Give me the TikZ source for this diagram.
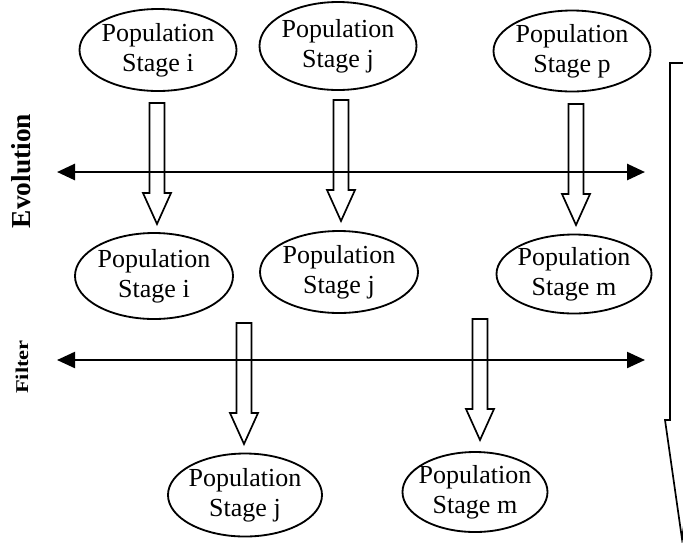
\documentclass[tikz,border=0pt]{standalone}
\usepackage{fontspec}
\setmainfont{Liberation Serif}
\usetikzlibrary{positioning, arrows.meta, shapes.geometric}

\begin{document}
\begin{tikzpicture}[
  x=0.025cm, y=-0.025cm,
  popshape/.style={
    draw, ellipse, line width=1.3pt, inner sep=0pt
  },
  poptext/.style={
    align=center, inner sep=0pt,
    font=\fontsize{18.5}{21.5}\selectfont
  },
  sidelabel/.style={
    inner sep=0pt, font=\fontsize{19.5}{22}\selectfont\bfseries
  },
  bothway/.style={
    {Triangle[length=0.45cm, width=0.4cm]}-{Triangle[length=0.45cm, width=0.4cm]},
    line width=#1
  },
  downarrow/.pic={
    \draw[line width=1.2pt] (-7.5,0) -- (-7.5,90) -- (-14,90) -- (0,121)
      -- (14,90) -- (7.5,90) -- (7.5,0) -- cycle;
  },
]
\useasboundingbox (0,0) rectangle (683,542);
\clip (0,0) rectangle (683,542);

% population ellipses
\foreach \nm/\x/\y/\w/\h/\st in {p1/158/50/157/82/i, p2/338/46/157/88/j,
  p3/572/51/157/81/p, q1/154/276/158/86/i, q2/339/272/158/82/j,
  q3/574/274/155/79/m, r1/245/495/154/83/j, r2/475/492/145/80/m} {
  \node[popshape, minimum width=\w*0.025cm, minimum height=\h*0.025cm]
    (\nm) at (\x,\y) {};
  \node[poptext] (\nm t) at (\nm) {Population\\Stage \st};
}

% stage transitions
\pic at (157,103) {downarrow};
\pic at (341,100) {downarrow};
\pic at (576,104) {downarrow};
\pic at (244,323) {downarrow};
\pic at (480,319) {downarrow};

% evolution and filter axes
\coordinate (evoL) at (57,172);
\coordinate (evoR) at (645,172);
\coordinate (filL) at (57,360);
\coordinate (filR) at (645,360);
\draw[bothway=2pt] (evoL) -- (evoR);
\draw[bothway=1.6pt] (filL) -- (filR);

\node[sidelabel, rotate=90] (evo) at (21,171) {Evolution};
\node[sidelabel, rotate=90, yscale=0.8,
      font=\fontsize{16}{18}\selectfont\bfseries] (fil) at (22,367) {Filter};

% overall progress arrow
\draw[line width=1.2pt] (670,63) -- (670,420) -- (665,420) -- (682,539)
  -- (699,420) -- (694,420) -- (694,63) -- cycle;

\end{tikzpicture}
\end{document}
